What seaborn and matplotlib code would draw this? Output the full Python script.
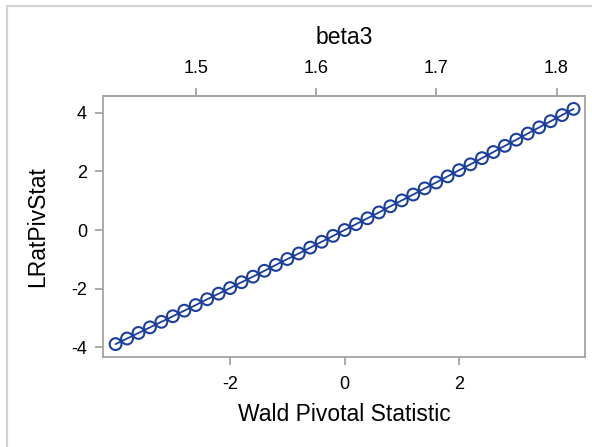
import matplotlib
matplotlib.use("Agg")
import matplotlib.pyplot as plt
from matplotlib.lines import Line2D
import seaborn as sns
import pandas as pd

# Profile statistics for beta3
wald = [-4.0, -3.8, -3.6, -3.4, -3.2, -3.0, -2.8, -2.6, -2.4, -2.2, -2.0,
        -1.8, -1.6, -1.4, -1.2, -1.0, -0.8, -0.6, -0.4, -0.2, 0.0,
        0.2, 0.4, 0.6, 0.8, 1.0, 1.2, 1.4, 1.6, 1.8, 2.0,
        2.2, 2.4, 2.6, 2.8, 3.0, 3.2, 3.4, 3.6, 3.8, 4.0]
lrat = [-3.89, -3.70, -3.51, -3.32, -3.13, -2.94, -2.75, -2.56, -2.36, -2.17, -1.98,
        -1.78, -1.59, -1.39, -1.19, -0.99, -0.80, -0.60, -0.40, -0.20, 0.00,
        0.20, 0.40, 0.60, 0.81, 1.01, 1.21, 1.42, 1.62, 1.83, 2.04,
        2.24, 2.45, 2.66, 2.87, 3.08, 3.29, 3.50, 3.71, 3.92, 4.13]

# beta3 estimate and its standard error (maps Wald statistic -> parameter)
beta3_est = 1.6234
beta3_se = 0.0477

x_ticks = [-2, 0, 2]
y_ticks = [-4, -2, 0, 2, 4]
top_ticks = [1.5, 1.6, 1.7, 1.8]

df = pd.DataFrame({"Wald Pivotal Statistic": wald, "LRatPivStat": lrat})

sns.set_theme(style="white")
plt.rcParams["font.family"] = ["Liberation Sans", "DejaVu Sans"]
plt.rcParams["axes.unicode_minus"] = False
plt.rcParams["text.color"] = "black"
plt.rcParams["axes.labelcolor"] = "black"

blue = "#1C3F9C"
gray = "#A3A3A3"

fig = plt.figure(figsize=(5.92, 4.47), dpi=100)
ax = fig.add_axes([103 / 592, 1 - 357 / 447, (585 - 103) / 592, (357 - 96) / 447])

sns.lineplot(data=df, x="Wald Pivotal Statistic", y="LRatPivStat", ax=ax,
             color=blue, linewidth=1.3)
sns.scatterplot(data=df, x="Wald Pivotal Statistic", y="LRatPivStat", ax=ax,
                marker="o", s=72, facecolor="none", edgecolor=blue, linewidth=1.5)

ax.set_xlim(-4.22, 4.20)
ax.set_ylim(-4.33, 4.57)
ax.set_xticks(x_ticks)
ax.set_yticks(y_ticks)

for sp in ax.spines.values():
    sp.set_color(gray)
    sp.set_linewidth(1.3)

ax.tick_params(axis="both", direction="out", length=6, width=1.3, color=gray,
               labelsize=13, labelcolor="black", pad=5.5)
ax.tick_params(axis="x", bottom=True, pad=8)
ax.tick_params(axis="y", left=True)
ax.set_xlabel("Wald Pivotal Statistic", fontsize=16.5, labelpad=7)
ax.set_ylabel("LRatPivStat", fontsize=16.5, labelpad=16)

top = ax.secondary_xaxis("top",
                         functions=(lambda w: beta3_est + beta3_se * w,
                                    lambda b: (b - beta3_est) / beta3_se))
top.set_xticks(top_ticks)
top.tick_params(direction="out", length=6, width=1.3, color=gray,
                labelsize=13, labelcolor="black", pad=7.5)
top.spines["top"].set_color(gray)
top.spines["top"].set_linewidth(1.3)
top.set_xlabel("beta3", fontsize=16.5, labelpad=12)

# outer frame lines along left and top edges
fig.add_artist(Line2D([6.5 / 592, 6.5 / 592], [0, 1 - 5.5 / 447],
                      transform=fig.transFigure, color="#D3D3D3", linewidth=1.6))
fig.add_artist(Line2D([6.5 / 592, 1], [1 - 5.5 / 447, 1 - 5.5 / 447],
                      transform=fig.transFigure, color="#D3D3D3", linewidth=1.6))

fig.savefig("out.png", dpi=100)
